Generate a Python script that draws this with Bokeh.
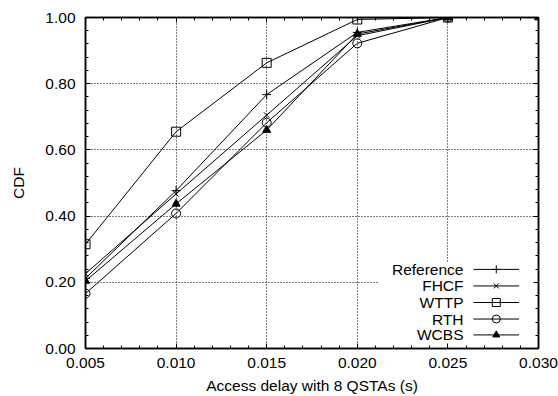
from bokeh.plotting import figure
from bokeh.models import LinearAxis, Range1d, FixedTicker, CustomJSTickFormatter, NumeralTickFormatter
from bokeh.embed import file_html
from bokeh.resources import INLINE
from bokeh.core.properties import value

# ---- data ----
delay = [0.005, 0.010, 0.015, 0.020, 0.025]
delay_wcbs = [0.005, 0.010, 0.015, 0.020, 0.025, 0.030]
reference = [0.212, 0.477, 0.767, 0.955, 1.0]
fhcf = [0.226, 0.467, 0.705, 0.945, 1.0]
wttp = [0.315, 0.655, 0.863, 0.994, 1.0]
rth = [0.166, 0.408, 0.682, 0.922, 1.0]
wcbs = [0.204, 0.437, 0.660, 0.950, 1.0, 1.0]

series_names = ["Reference", "FHCF", "WTTP", "RTH", "WCBS"]
x_ticks = [0.005, 0.010, 0.015, 0.020, 0.025, 0.030]
y_ticks = [0.0, 0.2, 0.4, 0.6, 0.8, 1.0]

FONT = "Liberation Sans"
FS = "15.5px"

p = figure(width=558, height=396, output_backend="svg", toolbar_location=None,
           x_range=Range1d(0.005, 0.030), y_range=Range1d(0.0, 1.0),
           min_border_left=85, min_border_right=20, min_border_top=17, min_border_bottom=48)
p.outline_line_color = "black"
p.outline_line_width = 1.5
p.background_fill_color = "white"
p.border_fill_color = "white"

x_minor = [0.005 + 0.001 * i for i in range(26)]
y_minor = [0.04 * i for i in range(26)]

# axes
for ax in (p.xaxis[0], p.yaxis[0]):
    ax.major_tick_in = 5
    ax.major_tick_out = 0
    ax.minor_tick_in = 3
    ax.minor_tick_out = 0
    ax.axis_line_color = "black"
    ax.axis_line_width = 1.5
    ax.major_label_text_font = FONT
    ax.major_label_text_font_size = FS
    ax.major_label_text_color = "black"
    ax.axis_label_text_font = FONT
    ax.axis_label_text_font_size = FS
    ax.axis_label_text_font_style = "normal"
    ax.axis_label_text_color = "black"

p.xaxis[0].ticker = FixedTicker(ticks=x_ticks, minor_ticks=x_minor)
p.yaxis[0].ticker = FixedTicker(ticks=y_ticks, minor_ticks=y_minor)
p.xaxis[0].formatter = NumeralTickFormatter(format="0.000")
p.yaxis[0].formatter = NumeralTickFormatter(format="0.00")
p.xaxis[0].axis_label = "Access delay with 8 QSTAs (s)"
p.yaxis[0].axis_label = "CDF"
p.xaxis[0].major_label_standoff = 9
p.yaxis[0].major_label_standoff = 10
p.xaxis[0].axis_label_standoff = 6
p.yaxis[0].axis_label_standoff = 15

# mirrored axes (ticks only)
top = LinearAxis(ticker=FixedTicker(ticks=x_ticks, minor_ticks=x_minor),
                 formatter=CustomJSTickFormatter(code="return ''"))
right = LinearAxis(ticker=FixedTicker(ticks=y_ticks, minor_ticks=y_minor),
                   formatter=CustomJSTickFormatter(code="return ''"))
for ax in (top, right):
    ax.major_tick_in = 5
    ax.major_tick_out = 0
    ax.minor_tick_in = 3
    ax.minor_tick_out = 0
    ax.axis_line_width = 1.5
    ax.major_label_standoff = 0
p.add_layout(top, "above")
p.add_layout(right, "right")

# grid
p.xgrid.ticker = FixedTicker(ticks=[0.010, 0.015, 0.020, 0.025])
p.ygrid.ticker = FixedTicker(ticks=[0.2, 0.4, 0.6, 0.8])
for g in (p.xgrid[0], p.ygrid[0]):
    g.grid_line_color = "black"
    g.grid_line_dash = "1 2"
    g.grid_line_width = 1

# series
lw = 1
ms = 9
p.line(delay, reference, line_color="black", line_width=lw)
p.scatter(delay, reference, marker="cross", size=ms, line_color="black", line_width=1)
p.line(delay, fhcf, line_color="black", line_width=lw)
p.scatter(delay, fhcf, marker="x", size=ms - 1, line_color="black", line_width=1)
p.line(delay, wttp, line_color="black", line_width=lw)
p.scatter(delay, wttp, marker="square", size=ms, line_color="black", fill_color=None, line_width=1)
p.line(delay, rth, line_color="black", line_width=lw)
p.scatter(delay, rth, marker="circle", size=ms, line_color="black", fill_color=None, line_width=1)
p.line(delay_wcbs, wcbs, line_color="black", line_width=lw)
p.scatter(delay_wcbs, wcbs, marker="triangle", size=ms - 1, line_color="black", fill_color="black", line_width=1)

# legend (gnuplot style: text right aligned, sample on the right)
p.quad(left=[0.02118], right=[0.0299], bottom=[0.004], top=[0.26], fill_color="white", line_color=None)
leg_y = [0.239, 0.189, 0.139, 0.089, 0.041]
markers = ["cross", "x", "square", "circle", "triangle"]
fills = [None, None, None, None, "black"]
sizes = [ms - 1, ms - 2, ms - 1, ms - 1, ms - 2]
p.text(x=[0.02586] * 5, y=leg_y, text=series_names, text_align="right", text_baseline="middle",
       text_font=value(FONT), text_font_size=FS, text_color="black")
p.segment(x0=[0.02641] * 5, x1=[0.02893] * 5, y0=leg_y, y1=leg_y, line_color="black", line_width=lw)
for yy, mk, fc, sz in zip(leg_y, markers, fills, sizes):
    p.scatter([0.02767], [yy], marker=mk, size=sz, line_color="black", fill_color=fc, line_width=1)

open("out.html", "w").write(file_html(p, INLINE))
